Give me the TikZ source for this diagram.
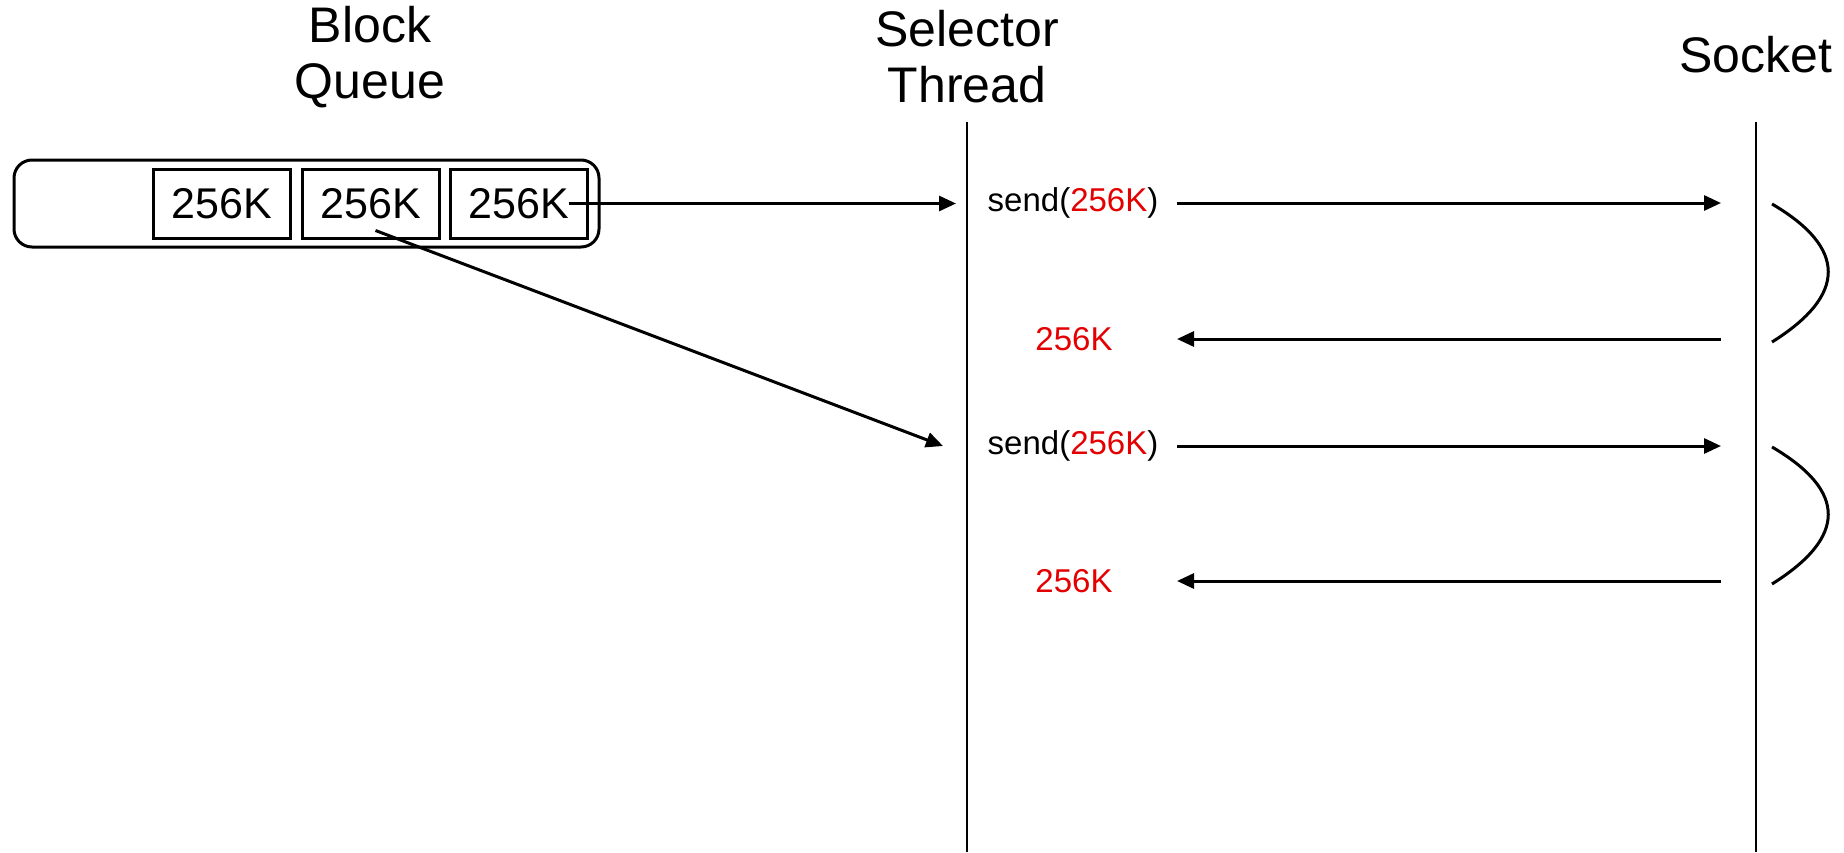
\documentclass[tikz,border=0pt]{standalone}
\usepackage{fontspec}
\setmainfont{Liberation Sans}
\usetikzlibrary{arrows.meta}
\definecolor{redtxt}{RGB}{228,0,0}
\begin{document}
\begin{tikzpicture}[x=1pt,y=-1pt, line width=3pt,
  title/.style={font=\fontsize{50}{56}\selectfont, align=center, inner sep=0pt},
  queuebox/.style={draw, rounded corners=18pt, minimum width=585pt, minimum height=87pt, inner sep=0pt},
  blockbox/.style={draw, minimum width=137pt, minimum height=69pt, inner sep=0pt, font=\fontsize{43}{50}\selectfont},
  msg/.style={font=\fontsize{33}{40}\selectfont, inner sep=0pt},
  arr/.style={-{Triangle[length=17pt,width=15pt]}},
  lifeline/.style={line width=2.8pt}]
\useasboundingbox (0,0) rectangle (1844,852);

% titles
\node[title] (tq) at (370,57) {Block\\Queue};
\node[title] (ts) at (967,57) {Selector\\Thread};
\node[title] (tk) at (1756,55) {Socket};

% lifelines
\coordinate (selTop) at (967,122);
\coordinate (selBot) at (967,852);
\coordinate (sockTop) at (1756,122);
\coordinate (sockBot) at (1756,852);
\draw[lifeline] (selTop) -- (selBot);
\draw[lifeline] (sockTop) -- (sockBot);

% block queue
\node[queuebox] (queue) at (306.5,203.5) {};
\node[blockbox] (b1) at (221.5,203.5) {256K};
\node[blockbox] (b2) at (370.5,203.5) {256K};
\node[blockbox] (b3) at (518.5,203.5) {256K};

% arrows into selector thread
\coordinate (in1) at (956,203.5);
\coordinate (in2) at (943,446);
\draw[arr] ([xshift=50pt]b3.center) -- (in1);
\draw[arr] ([xshift=5pt,yshift=-27pt]b2.center) -- (in2);

% messages
\node[msg] (send1) at (1073,203) {send(\textcolor{redtxt}{256K})};
\node[msg, text=redtxt] (ret1) at (1074,339) {256K};
\node[msg] (send2) at (1073,446) {send(\textcolor{redtxt}{256K})};
\node[msg, text=redtxt] (ret2) at (1074,581) {256K};

\coordinate (s1a) at (1177,203);
\coordinate (s1b) at (1721,203);
\coordinate (r1a) at (1721,339);
\coordinate (r1b) at (1177,339);
\coordinate (s2a) at (1177,446);
\coordinate (s2b) at (1721,446);
\coordinate (r2a) at (1721,581);
\coordinate (r2b) at (1177,581);
\draw[arr] (s1a) -- (s1b);
\draw[arr] (r1a) -- (r1b);
\draw[arr] (s2a) -- (s2b);
\draw[arr] (r2a) -- (r2b);

% socket curves
\coordinate (c1s) at (1772,204);
\coordinate (c1e) at (1772,342);
\coordinate (c2s) at (1772,447);
\coordinate (c2e) at (1772,584);
\draw (c1s) .. controls (1847,248) and (1847,295) .. (c1e);
\draw (c2s) .. controls (1847,491) and (1847,537) .. (c2e);
\end{tikzpicture}
\end{document}
